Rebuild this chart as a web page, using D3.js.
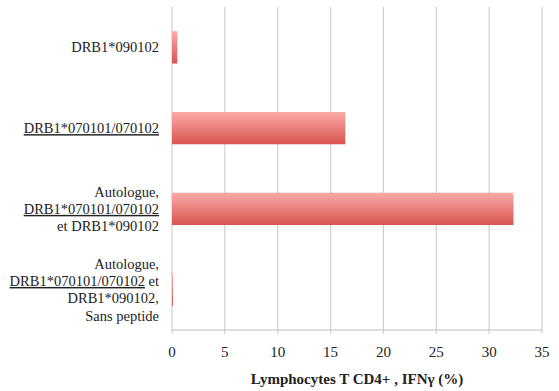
<!DOCTYPE html>
<html>
<head>
<meta charset="utf-8">
<script src="https://cdn.jsdelivr.net/npm/d3@7"></script>
<style>
  body { margin: 0; background: #fff; }
  #chart text, #chart tspan { font-family: 'Liberation Serif', serif !important; }
</style>
</head>
<body>
<svg id="chart" width="559" height="391"></svg>
<script>
// categories, top to bottom; each is a list of lines, each line a list of [text, underlined]
const categories = [
  [[["DRB1*090102", false]]],
  [[["DRB1*070101/070102", true]]],
  [
    [["Autologue,", false]],
    [["DRB1*070101/070102", true]],
    [["et DRB1*090102", false]]
  ],
  [
    [["Autologue,", false]],
    [["DRB1*070101/070102", true], [" et", false]],
    [["DRB1*090102,", false]],
    [["Sans peptide", false]]
  ]
];
const values = [0.5, 16.4, 32.3, 0.05];
const xTicks = [0, 5, 10, 15, 20, 25, 30, 35];
const xTitle = "Lymphocytes T CD4+ , IFNγ (%)";

const margin = { top: 7, right: 17, bottom: 61, left: 172 };
const width = 559, height = 391;
const serifStyle = "font-family: 'Liberation Serif', serif !important;";

const svg = d3.select("#chart");

const defs = svg.append("defs");
const grad = defs.append("linearGradient")
  .attr("id", "barGrad")
  .attr("x1", 0).attr("y1", 0).attr("x2", 0).attr("y2", 1);
grad.append("stop").attr("offset", "0%").attr("stop-color", "#fbaaa7");
grad.append("stop").attr("offset", "100%").attr("stop-color", "#d8544f");

const x = d3.scaleLinear()
  .domain([0, 35])
  .range([margin.left, width - margin.right]);

const y = d3.scaleBand()
  .domain(d3.range(categories.length))
  .range([margin.top, height - margin.bottom])
  .paddingInner(0.6)
  .paddingOuter(0.3);

// gridlines
svg.append("g")
  .selectAll("line")
  .data(xTicks)
  .join("line")
  .attr("x1", d => x(d))
  .attr("x2", d => x(d))
  .attr("y1", margin.top)
  .attr("y2", height - margin.bottom + 4)
  .attr("stroke", "#cfcfcf")
  .attr("stroke-width", 1.2);

// bottom axis line
svg.append("line")
  .attr("x1", x(0))
  .attr("x2", x(35))
  .attr("y1", height - margin.bottom)
  .attr("y2", height - margin.bottom)
  .attr("stroke", "#bdbdbd")
  .attr("stroke-width", 1.2);

// bars
svg.append("g")
  .selectAll("rect")
  .data(values)
  .join("rect")
  .attr("x", x(0))
  .attr("y", (d, i) => y(i))
  .attr("width", d => Math.max(1, x(d) - x(0)))
  .attr("height", y.bandwidth())
  .attr("fill", "url(#barGrad)");

// tick labels
svg.append("g")
  .selectAll("text")
  .data(xTicks)
  .join("text")
  .attr("x", d => x(d))
  .attr("y", 357)
  .attr("text-anchor", "middle")
  .attr("style", serifStyle + " font-size: 15px;")
  .attr("fill", "#222")
  .text(d => d);

// axis title
svg.append("text")
  .attr("x", (x(0) + x(35)) / 2)
  .attr("y", 384)
  .attr("text-anchor", "middle")
  .attr("style", serifStyle + " font-size: 15px; font-weight: bold;")
  .attr("fill", "#222")
  .text(xTitle);

// category labels
const lineH = 17.3;
const labels = svg.append("g")
  .selectAll("text")
  .data(categories)
  .join("text")
  .attr("text-anchor", "end")
  .attr("style", serifStyle + " font-size: 14.5px;")
  .attr("fill", "#222");

labels.each(function (lines, i) {
  const t = d3.select(this);
  const cy = y(i) + y.bandwidth() / 2;
  const y0 = cy - (lines.length - 1) * lineH / 2 + 5;
  lines.forEach((parts, j) => {
    parts.forEach((p, k) => {
      const ts = t.append("tspan").text(p[0]).attr("style", serifStyle);
      if (k === 0) ts.attr("x", 159).attr("y", y0 + j * lineH);
      if (p[1]) ts.attr("text-decoration", "underline");
    });
  });
});
</script>
</body>
</html>
